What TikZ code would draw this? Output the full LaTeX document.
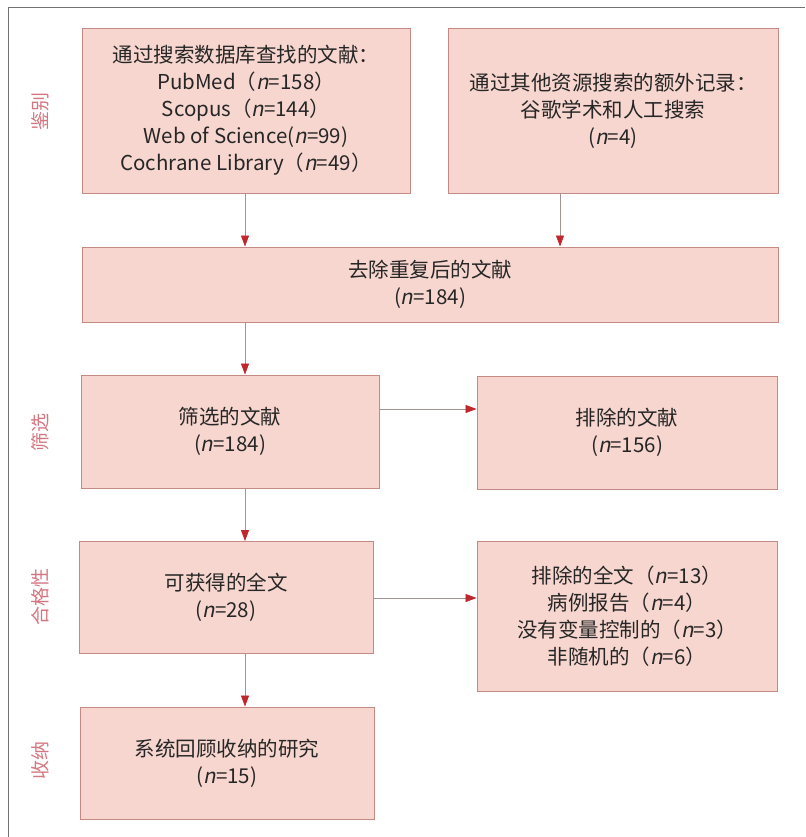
\documentclass[tikz,border=0pt]{standalone}
\usepackage{fontspec}
\setmainfont{Noto Sans CJK SC}
\newfontfamily\slantfont{Noto Sans CJK SC}[FakeSlant=0.2]
\newcommand{\nvar}{{\slantfont n}}
\usetikzlibrary{arrows.meta}
\definecolor{boxfill}{HTML}{F7D6CF}
\definecolor{boxline}{HTML}{C48A84}
\definecolor{arrred}{HTML}{C0262C}
\definecolor{lbl}{HTML}{D57580}
\definecolor{conn}{HTML}{A39393}
\begin{document}
\begin{tikzpicture}[x=1pt,y=-1pt,
  box/.style={draw=boxline, fill=boxfill, line width=0.9pt, inner sep=0pt, align=center,
    font=\fontsize{20.5}{27}\selectfont, text=black!85},
  arr/.style={draw=conn, line width=0.8pt, -{Triangle[width=8pt,length=11pt,fill=arrred,color=arrred]}},
  side/.style={rotate=90, text=lbl, font=\fontsize{19}{22}\selectfont}]
\useasboundingbox (0,0) rectangle (805,837);
\draw[line width=0.8pt, black!55] (8,837) -- (8,7) -- (805,7);

\node[box, minimum width=328pt, minimum height=165pt] (A) at (246,110.5)
  {通过搜索数据库查找的文献：\\PubMed（\nvar=158）\\Scopus（\nvar=144）\\Web of Science(\nvar=99)\\Cochrane Library（\nvar=49）};
\node[box, minimum width=330pt, minimum height=165pt] (B) at (613,110.5)
  {通过其他资源搜索的额外记录：\\谷歌学术和人工搜索\\(\nvar=4)};
\node[box, minimum width=696pt, minimum height=75pt] (C) at (430,284.5)
  {去除重复后的文献\\(\nvar=184)};
\node[box, minimum width=298pt, minimum height=113pt] (D) at (230,431.5)
  {筛选的文献\\(\nvar=184)};
\node[box, minimum width=300pt, minimum height=113pt] (E) at (627,432.5)
  {排除的文献\\(\nvar=156)};
\node[box, minimum width=294pt, minimum height=112pt] (F) at (226,597.5)
  {可获得的全文\\(\nvar=28)};
\node[box, minimum width=300pt, minimum height=150pt] (G) at (627,616.5)
  {排除的全文（\nvar=13）\\病例报告（\nvar=4）\\没有变量控制的（\nvar=3）\\非随机的（\nvar=6）};
\node[box, minimum width=294pt, minimum height=112pt] (H) at (227,763)
  {系统回顾收纳的研究\\(\nvar=15)};

\node[side] (s1) at (40,112) {鉴别};
\node[side] (s2) at (40,432) {筛选};
\node[side] (s3) at (40,597) {合格性};
\node[side] (s4) at (40,760) {收纳};

\coordinate (colA) at (245,0);
\coordinate (colB) at (560,0);
\coordinate (row1) at (0,409);
\coordinate (row2) at (0,598);
\draw[arr] (A.south -| colA) -- (C.north -| colA);
\draw[arr] (B.south -| colB) -- (C.north -| colB);
\draw[arr] (C.south -| colA) -- (D.north -| colA);
\draw[arr] (D.south -| colA) -- (F.north -| colA);
\draw[arr] (F.south -| colA) -- (H.north -| colA);
\draw[arr] (D.east |- row1) -- (E.west |- row1);
\draw[arr] (F.east |- row2) -- (G.west |- row2);
\end{tikzpicture}
\end{document}
